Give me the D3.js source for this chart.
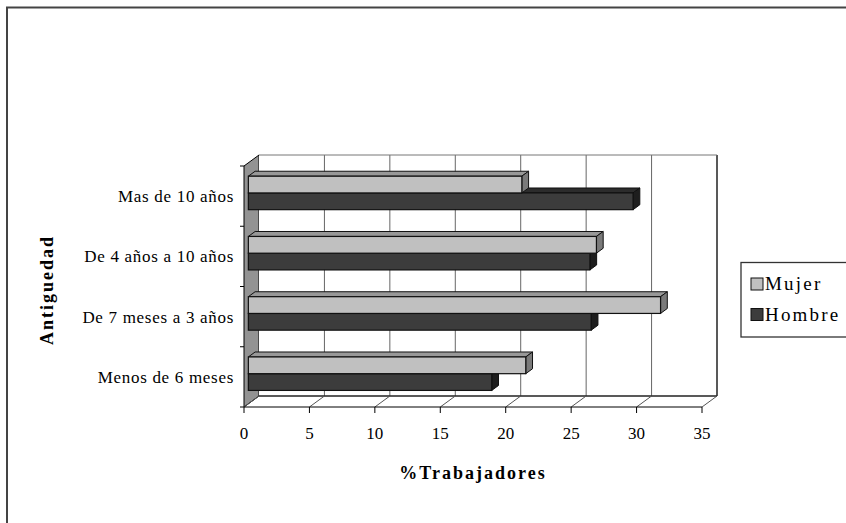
<!DOCTYPE html>
<html>
<head>
<meta charset="utf-8">
<script src="https://cdn.jsdelivr.net/npm/d3@7"></script>
<style>
  body { margin: 0; background: #fff; }
  text { font-family: "Liberation Serif", "Times New Roman", serif; fill: #000; }
</style>
</head>
<body>
<script>
// datos (de abajo hacia arriba, como en Excel)
var categorias = ['Menos de 6 meses', 'De 7 meses a 3 años', 'De 4 años a 10 años', 'Mas de 10 años'];
var series = ['Mujer', 'Hombre'];
var mujer = [21.2, 31.5, 26.6, 20.9];
var hombre = [18.6, 26.2, 26.1, 29.4];
var ticksX = [0, 5, 10, 15, 20, 25, 30, 35];

var colores = {
    Mujer: { front: '#c0c0c0', top: '#989898', side: '#7a7a7a' },
    Hombre: { front: '#3c3c3c', top: '#2c2c2c', side: '#1e1e1e' }
};

var W = 846, H = 523;
var dx = 15, dy = -11;          // profundidad del 3D
var d0 = 0.29, d1 = 0.74;       // profundidad de las barras

var svg = d3.select('body').append('svg')
    .attr('width', W)
    .attr('height', H);

// marco exterior
svg.append('rect')
    .attr('x', 7).attr('y', 7.5)
    .attr('width', W + 20).attr('height', H + 20)
    .attr('fill', 'none')
    .attr('stroke', '#444')
    .attr('stroke-width', 2);

var x = d3.scaleLinear().domain([0, 35]).range([244, 702]);
var y = d3.scaleBand()
    .domain(categorias.slice().reverse())
    .range([166, 407]);
var ySerie = d3.scaleBand()
    .domain(series)
    .range([0, y.bandwidth()])
    .paddingInner(0)
    .paddingOuter(0.8);

var top0 = y.range()[0], bot0 = y.range()[1];

// pared izquierda
svg.append('polygon')
    .attr('points', [[x(0), top0], [x(0) + dx, top0 + dy], [x(0) + dx, bot0 + dy], [x(0), bot0]].join(' '))
    .attr('fill', '#939393')
    .attr('stroke', '#000')
    .attr('stroke-width', 1);

// pared del fondo
svg.append('rect')
    .attr('x', x(0) + dx).attr('y', top0 + dy)
    .attr('width', x(35) - x(0)).attr('height', bot0 - top0)
    .attr('fill', '#fff');

svg.selectAll('.grid')
    .data(ticksX.slice(1))
    .enter()
    .append('line')
    .attr('class', 'grid')
    .attr('x1', function (d) { return x(d) + dx; })
    .attr('x2', function (d) { return x(d) + dx; })
    .attr('y1', top0 + dy)
    .attr('y2', bot0 + dy)
    .attr('stroke', function (d) { return d == 35 ? '#222' : '#666'; })
    .attr('stroke-width', function (d) { return d == 35 ? 1.5 : 1; });

svg.append('line')
    .attr('x1', x(0) + dx).attr('x2', x(35) + dx)
    .attr('y1', top0 + dy).attr('y2', top0 + dy)
    .attr('stroke', '#777');

// suelo
svg.append('line')
    .attr('x1', x(0) + dx).attr('x2', x(35) + dx)
    .attr('y1', bot0 + dy).attr('y2', bot0 + dy)
    .attr('stroke', '#222').attr('stroke-width', 1.5);

svg.selectAll('.floor')
    .data(ticksX)
    .enter()
    .append('line')
    .attr('class', 'floor')
    .attr('x1', function (d) { return x(d); })
    .attr('x2', function (d) { return x(d) + dx; })
    .attr('y1', bot0)
    .attr('y2', bot0 + dy)
    .attr('stroke', '#555');

// eje X frontal
svg.append('line')
    .attr('x1', x(0)).attr('x2', x(35))
    .attr('y1', bot0).attr('y2', bot0)
    .attr('stroke', '#000');

svg.selectAll('.tickx')
    .data(ticksX)
    .enter()
    .append('line')
    .attr('class', 'tickx')
    .attr('x1', function (d) { return x(d); })
    .attr('x2', function (d) { return x(d); })
    .attr('y1', bot0)
    .attr('y2', bot0 + 6)
    .attr('stroke', '#000');

svg.selectAll('.labx')
    .data(ticksX)
    .enter()
    .append('text')
    .attr('class', 'labx')
    .attr('x', function (d) { return x(d); })
    .attr('y', bot0 + 32)
    .attr('text-anchor', 'middle')
    .style('font-size', '17px')
    .text(function (d) { return d; });

// eje Y
var limites = y.domain().map(function (c) { return y(c); }).concat([bot0]);
svg.selectAll('.ticky')
    .data(limites)
    .enter()
    .append('line')
    .attr('class', 'ticky')
    .attr('x1', x(0) - 4)
    .attr('x2', x(0))
    .attr('y1', function (d) { return d; })
    .attr('y2', function (d) { return d; })
    .attr('stroke', '#000');

svg.selectAll('.laby')
    .data(categorias)
    .enter()
    .append('text')
    .attr('class', 'laby')
    .attr('x', 234)
    .attr('y', function (d) { return y(d) + y.bandwidth() / 2 + 2; })
    .attr('text-anchor', 'end')
    .attr('dominant-baseline', 'middle')
    .style('font-size', '17px')
    .style('letter-spacing', '0.7px')
    .text(function (d) { return d; });

// barras 3D
var barras = [];
categorias.forEach(function (c, i) {
    barras.push({ cat: c, serie: 'Hombre', v: hombre[i] });
    barras.push({ cat: c, serie: 'Mujer', v: mujer[i] });
});

var ox = d0 * dx, oy = d0 * dy;
var px = (d1 - d0) * dx, py = (d1 - d0) * dy;

var g = svg.selectAll('.bar')
    .data(barras)
    .enter()
    .append('g')
    .attr('class', 'bar');

g.each(function (d) {
    var sel = d3.select(this);
    var x0 = x(0) + ox, x1 = x(d.v) + ox;
    var yt = y(d.cat) + ySerie(d.serie) + oy;
    var yb = yt + ySerie.bandwidth();
    var c = colores[d.serie];
    // cara superior
    sel.append('polygon')
        .attr('points', [[x0, yt], [x0 + px, yt + py], [x1 + px, yt + py], [x1, yt]].join(' '))
        .attr('fill', c.top).attr('stroke', '#111').attr('stroke-width', 1);
    // cara lateral
    sel.append('polygon')
        .attr('points', [[x1, yt], [x1 + px, yt + py], [x1 + px, yb + py], [x1, yb]].join(' '))
        .attr('fill', c.side).attr('stroke', '#111').attr('stroke-width', 1);
    // cara frontal
    sel.append('rect')
        .attr('x', x0).attr('y', yt)
        .attr('width', x1 - x0).attr('height', yb - yt)
        .attr('fill', c.front).attr('stroke', '#111').attr('stroke-width', 1.2);
});

// títulos de ejes
svg.append('text')
    .attr('x', 473)
    .attr('y', 479)
    .attr('text-anchor', 'middle')
    .style('font-size', '18px')
    .style('font-weight', 'bold')
    .style('letter-spacing', '2px')
    .text('%Trabajadores');

svg.append('text')
    .attr('transform', 'translate(53,290) rotate(-90)')
    .attr('text-anchor', 'middle')
    .style('font-size', '18px')
    .style('font-weight', 'bold')
    .style('letter-spacing', '2px')
    .text('Antiguedad');

// leyenda
var leg = svg.append('g');
leg.append('rect')
    .attr('x', 741).attr('y', 262.5)
    .attr('width', 130).attr('height', 74.5)
    .attr('fill', '#fff')
    .attr('stroke', '#333')
    .attr('stroke-width', 1.3);

var items = leg.selectAll('.item')
    .data(series)
    .enter()
    .append('g')
    .attr('class', 'item')
    .attr('transform', function (d, i) { return 'translate(751,' + (278 + i * 30.5) + ')'; });

items.append('rect')
    .attr('width', 12).attr('height', 12)
    .attr('fill', function (d) { return colores[d].front; })
    .attr('stroke', '#111');

items.append('text')
    .attr('x', 14)
    .attr('y', 12)
    .style('font-size', '19px')
    .style('letter-spacing', '2.2px')
    .text(function (d) { return d; });
</script>
</body>
</html>
